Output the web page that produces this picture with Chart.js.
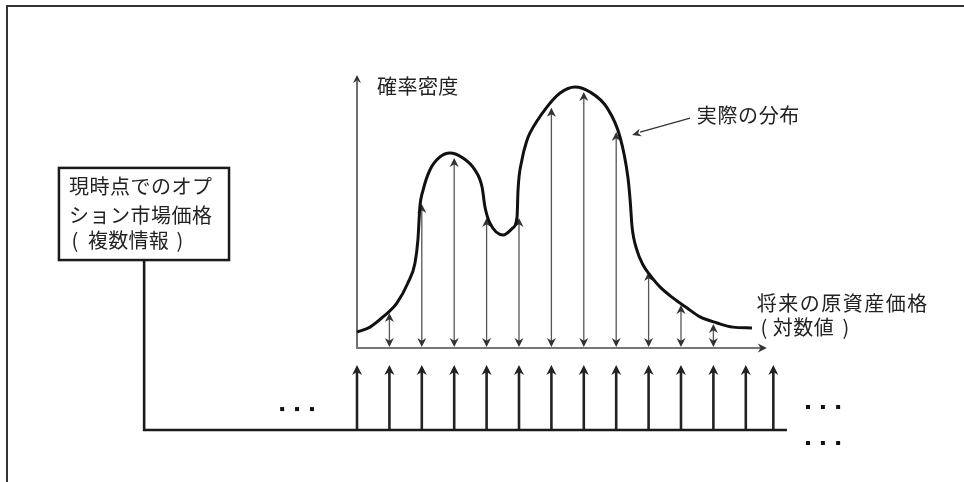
<!DOCTYPE html>
<html><head><meta charset="utf-8">
<script src="https://cdn.jsdelivr.net/npm/chart.js@4"></script>
<style>html,body{margin:0;padding:0;background:#fff}canvas{display:block}</style>
</head>
<body><canvas id="c" width="964" height="482"></canvas>
<script>
// ---- data (x: log future price, in strike steps; y: probability density, peak = 100) ----
const curveX = [0.00,0.40,0.80,1.23,1.57,1.79,1.88,1.94,2.04,2.25,2.56,2.87,3.27,3.64,3.86,3.95,4.10,4.51,4.81,4.94,4.97,5.09,5.25,5.34,5.86,6.27,6.73,7.19,7.72,8.12,8.36,8.43,8.49,8.64,8.83,9.04,9.35,9.75,10.19,10.59,11.11,11.60,12.19];
const curveY = [6.1,8.0,11.9,17.2,24.9,32.6,41.4,54.0,60.5,68.2,73.2,74.7,72.8,68.2,61.7,54.0,47.9,43.3,46.0,50.2,60.5,72.0,79.7,82.4,92.3,97.7,100,98.1,92.0,80.8,65.5,56.7,46.4,37.5,31.8,28.0,23.4,19.2,15.3,11.9,9.6,8.0,7.7];
const arrowX = [1,2,3,4,5,6,7,8,9,10,11];
const arrowDensity = [13.4,55.2,72.8,49.8,49.8,92.0,98.1,82.8,29.1,16.5,9.2];
const strikeX = [0,1,2,3,4,5,6,7,8,9,10,11,12,12.85];
const yAxisTitle = '確率密度';
const xAxisTitle = ['将来の原資産価格', '対数値'];
const curveLabel = '実際の分布';
const boxLines = ['現時点でのオプ', 'ション市場価格', '複数情報'];

const FAMILY = '"Noto Sans CJK JP", "Noto Sans", sans-serif';

function head(ctx, x, y, dx, dy, len, wid, color) {
  const px = -dy, py = dx;
  ctx.save();
  ctx.fillStyle = color;
  ctx.beginPath();
  ctx.moveTo(x, y);
  ctx.lineTo(x - dx*len + px*wid/2, y - dy*len + py*wid/2);
  ctx.lineTo(x - dx*len*0.7, y - dy*len*0.7);
  ctx.lineTo(x - dx*len - px*wid/2, y - dy*len - py*wid/2);
  ctx.closePath();
  ctx.fill();
  ctx.restore();
}
function line(ctx, x1, y1, x2, y2, w, color) {
  ctx.save();
  ctx.strokeStyle = color; ctx.lineWidth = w; ctx.lineCap = 'butt';
  ctx.beginPath(); ctx.moveTo(x1, y1); ctx.lineTo(x2, y2); ctx.stroke();
  ctx.restore();
}
function text(ctx, s, x, y, spacing, align) {
  ctx.save();
  ctx.font = '20px ' + FAMILY; ctx.fillStyle = '#222';
  ctx.textBaseline = 'middle'; ctx.textAlign = align || 'left';
  try { ctx.letterSpacing = (spacing || 0) + 'px'; } catch(e) {}
  ctx.fillText(s, x, y);
  ctx.restore();
}
// text wrapped in separately placed half-width parentheses
function paren(ctx, s, lx, sx, rx, y, spacing) {
  text(ctx, '(', lx, y, 0, 'center');
  text(ctx, s, sx, y, spacing);
  text(ctx, ')', rx, y, 0, 'center');
}

const diagram = {
  id: 'diagram',
  beforeDatasetsDraw(chart) {
    const ctx = chart.ctx;
    const xs = chart.scales.x, ys = chart.scales.y;
    const X = v => xs.getPixelForValue(v), Y = v => ys.getPixelForValue(v);
    const a = chart.chartArea;
    // frame
    line(ctx, a.left + 7, a.top + 6, a.right, a.top + 6, 2, '#333');
    line(ctx, a.left + 7, a.top + 5, a.left + 7, a.bottom, 2, '#333');
    // axes
    const x0 = X(0), y0 = Y(0);
    line(ctx, x0, y0, x0, Y(104.6) + 6, 1.4, '#333');
    head(ctx, x0, Y(104.6), 0, -1, 8, 8, '#333');
    line(ctx, x0 - 1, y0, X(12.65) - 6, y0, 2, '#777');
    head(ctx, X(12.65), y0, 1, 0, 9, 9, '#333');
    // double arrows (density read from option prices)
    arrowX.forEach((v, i) => {
      const x = X(v), top = Y(arrowDensity[i]), bot = y0 - 1;
      line(ctx, x, top + 6, x, bot - 6, 1.3, '#555');
      head(ctx, x, top, 0, -1, 9, 9, '#333');
      head(ctx, x, bot, 0, 1, 9, 9, '#333');
    });
    // market price arrows
    const base = Y(-31.4), tip = Y(-6.5);
    strikeX.forEach(v => {
      const x = X(v);
      line(ctx, x, base, x, tip + 7, 2.6, '#222');
      head(ctx, x, tip, 0, -1, 10, 10, '#222');
    });
    // wire and baseline
    const wx = X(-6.57);
    ctx.save();
    ctx.strokeStyle = '#1a1a1a'; ctx.lineWidth = 2.6; ctx.lineJoin = 'miter';
    ctx.beginPath(); ctx.moveTo(wx, Y(33.7)); ctx.lineTo(wx, base); ctx.lineTo(X(13.27), base); ctx.stroke();
    ctx.restore();
    // box
    const bl = X(-9.20), bt = Y(69.0);
    ctx.save();
    ctx.strokeStyle = '#1a1a1a'; ctx.lineWidth = 2.5;
    ctx.strokeRect(bl, bt, X(-3.95) - bl, Y(33.7) - bt);
    ctx.restore();
    text(ctx, boxLines[0], bl + 10, bt + 19, 0.5);
    text(ctx, boxLines[1], bl + 10, bt + 48, 0.5);
    paren(ctx, boxLines[2], bl + 16, bl + 29, bl + 121, bt + 73, 0.3);
    // ellipsis dots
    ctx.save(); ctx.fillStyle = '#111';
    [[-2.31,-23.4],[-1.85,-23.4],[-1.39,-23.4],[13.92,-22.6],[14.38,-22.6],[14.85,-22.6],[13.92,-36.4],[14.38,-36.4],[14.85,-36.4]].forEach(p => {
      ctx.fillRect(X(p[0]) - 2, Y(p[1]) - 2, 4, 4);
    });
    ctx.restore();
    // labels
    text(ctx, yAxisTitle, X(0.62), Y(100.4), 0.4);
    text(ctx, curveLabel, X(10.49), Y(89.3), 0.6);
    line(ctx, X(10.28), Y(88.1), X(8.49) + 8, Y(81.6) - 3, 1.3, '#333');
    const ang = Math.atan2(Y(81.6) - Y(88.1), X(8.49) - X(10.28));
    head(ctx, X(8.49), Y(81.6), Math.cos(ang), Math.sin(ang), 9, 8, '#333');
    text(ctx, xAxisTitle[0], X(12.34), Y(17.0), 1.5);
    paren(ctx, xAxisTitle[1], X(12.34) + 7, X(12.34) + 16, X(12.34) + 89, Y(7.7), 0.5);
  }
};

new Chart(document.getElementById('c').getContext('2d'), {
  type: 'scatter',
  data: { datasets: [{
    type: 'line',
    data: curveX.map((x, i) => ({ x, y: curveY[i] })),
    borderColor: '#111', borderWidth: 3, pointRadius: 0,
    cubicInterpolationMode: 'monotone', tension: 0.4,
    fill: false, clip: false
  }] },
  options: {
    responsive: false, animation: false, devicePixelRatio: 1,
    layout: { padding: 0 },
    plugins: { legend: { display: false }, tooltip: { enabled: false } },
    scales: {
      x: { type: 'linear', min: -11.019, max: 18.735, display: false },
      y: { type: 'linear', min: -51.34, max: 133.33, display: false }
    }
  },
  plugins: [diagram]
});
</script>
</body></html>
